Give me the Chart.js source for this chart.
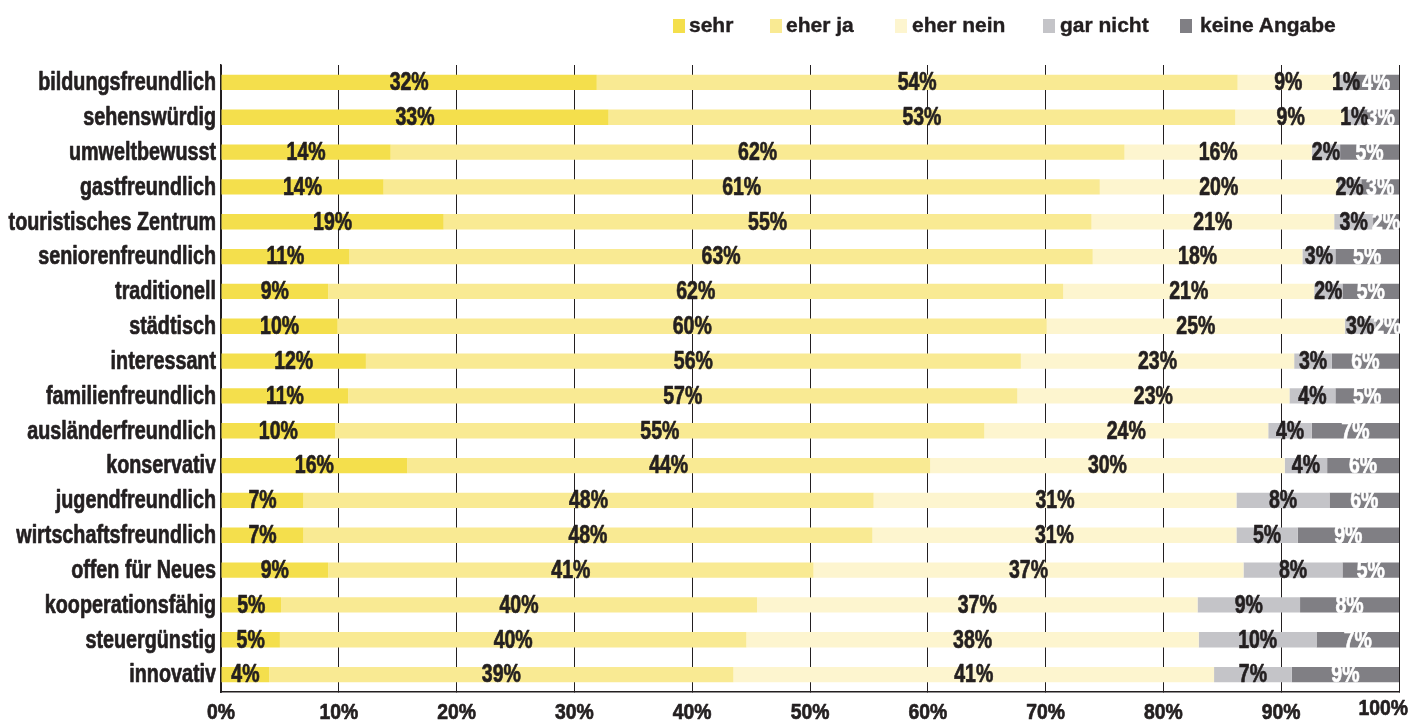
<!DOCTYPE html>
<html>
<head>
<meta charset="utf-8">
<script src="https://cdn.jsdelivr.net/npm/chart.js@4.4.1/dist/chart.umd.min.js"></script>
<style>
  body { margin: 0; background: #fff; }
  #wrap { position: relative; width: 1426px; height: 724px; }
  #legend { position: absolute; top: 0; left: 0; font: bold 21px "Liberation Sans", Arial, sans-serif; color: #231f20;
            -webkit-text-stroke: 0.4px #231f20; }
  #legend i { position: absolute; top: 19px; width: 12px; height: 14px; }
  #legend span { position: absolute; top: 13px; white-space: nowrap; }
</style>
</head>
<body>
<div id="wrap">
  <canvas id="myChart" width="1426" height="724"></canvas>
  <div id="legend"></div>
</div>
<script>
const font = '"Liberation Sans", Arial, sans-serif'

let labels = ["bildungsfreundlich", "sehenswürdig", "umweltbewusst", "gastfreundlich",
  "touristisches Zentrum", "seniorenfreundlich", "traditionell", "städtisch", "interessant",
  "familienfreundlich", "ausländerfreundlich", "konservativ", "jugendfreundlich",
  "wirtschaftsfreundlich", "offen für Neues", "kooperationsfähig", "steuergünstig", "innovativ"]

let sehr      = [31.9, 32.9, 14.4, 13.8, 18.9, 10.9,  9.1,  9.9, 12.3, 10.8,  9.7, 15.8,  7.0,  7.0,  9.1,  5.1,  5.0,  4.1]
let eherJa    = [54.4, 53.2, 62.3, 60.8, 55.0, 63.1, 62.4, 60.2, 55.6, 56.8, 55.1, 44.4, 48.4, 48.3, 41.2, 40.4, 39.6, 39.4]
let eherNein  = [ 8.6,  9.4, 15.9, 20.2, 20.6, 17.8, 21.3, 25.3, 23.2, 23.1, 24.1, 30.1, 30.8, 30.9, 36.5, 37.4, 38.4, 40.8]
let garNicht  = [ 1.2,  1.4,  2.4,  2.0,  3.3,  2.8,  2.4,  2.6,  3.2,  3.9,  3.7,  3.6,  7.9,  5.2,  8.4,  8.7, 10.0,  6.6]
let keine     = [ 3.9,  3.1,  5.0,  3.2,  2.2,  5.4,  4.8,  2.0,  5.7,  5.4,  7.4,  6.1,  5.9,  8.6,  4.8,  8.4,  7.0,  9.1]

let xTickLabels = ["0%", "10%", "20%", "30%", "40%", "50%", "60%", "70%", "80%", "90%", "100%"]

let names  = ["sehr", "eher ja", "eher nein", "gar nicht", "keine Angabe"]
let colors = ["#f4df4c", "#f9ea93", "#fdf5cf", "#c4c4c8", "#807f84"]
let textColors = ["#231f20", "#231f20", "#231f20", "#231f20", "#ffffff"]
let series = [sehr, eherJa, eherNein, garNicht, keine]

// html legend, box / text left edges as in the original
let boxX  = [673, 770, 895, 1043, 1180]
let textX = [689, 786, 912, 1060, 1200]
let legend = document.getElementById("legend")
names.forEach((n, i) => {
  legend.insertAdjacentHTML("beforeend",
    `<i style="left:${boxX[i]}px;background:${colors[i]}"></i><span style="left:${textX[i]}px">${n}</span>`)
})

// the original uses a narrow heavy face, so squeeze the text sideways and thicken it a bit
function narrowText(ctx, txt, x, y, align, sx) {
  ctx.save()
  ctx.translate(x, y)
  ctx.scale(sx, 1)
  ctx.textAlign = align
  ctx.strokeStyle = ctx.fillStyle
  ctx.lineWidth = 0.7
  ctx.lineJoin = "round"
  ctx.strokeText(txt, 0, 0)
  ctx.fillText(txt, 0, 0)
  ctx.restore()
}

const textLayer = {
  id: "textLayer",
  afterDatasetsDraw(chart) {
    let ctx = chart.ctx
    ctx.save()
    ctx.textBaseline = "middle"

    // values in the middle of each segment
    ctx.font = "bold 25px " + font
    chart.data.datasets.forEach((ds, di) => {
      ctx.fillStyle = textColors[di]
      chart.getDatasetMeta(di).data.forEach((bar, i) => {
        narrowText(ctx, Math.round(ds.data[i]) + "%", (bar.x + bar.base) / 2, bar.y + 1, "center", 0.78)
      })
    })

    // category names
    ctx.fillStyle = "#231f20"
    let y = chart.scales.y
    labels.forEach((l, i) => {
      narrowText(ctx, l, y.right - 5, y.getPixelForValue(i) + 1, "right", 0.79)
    })

    // percent ticks
    let x = chart.scales.x
    ctx.font = "bold 22px " + font
    xTickLabels.forEach((t, i) => {
      let px = x.getPixelForValue(i * 10)
      if (i == xTickLabels.length - 1) narrowText(ctx, t, px + 9, 709, "right", 0.88)
      else narrowText(ctx, t, px, 713, "center", 0.88)
    })
    ctx.restore()
  }
}

new Chart("myChart", {
  type: "bar",
  data: {
    labels: labels,
    datasets: series.map((d, i) => ({
      label: names[i],
      data: d,
      backgroundColor: colors[i],
      barPercentage: 0.44,
      categoryPercentage: 1
    }))
  },
  options: {
    indexAxis: "y",
    responsive: false,
    animation: false,
    layout: { padding: { top: 65, right: 27, left: 0, bottom: 32 } },
    plugins: { legend: { display: false }, tooltip: { enabled: false } },
    scales: {
      x: {
        stacked: true, min: 0, max: 100,
        ticks: { stepSize: 10, display: false },
        grid: { color: "#231f20", lineWidth: 1, tickLength: 0 },
        border: { color: "#231f20", width: 1.5 }
      },
      y: {
        stacked: true,
        afterFit: s => { s.width = 221 },
        ticks: { display: false },
        grid: { display: false },
        border: { color: "#231f20", width: 1.5 }
      }
    }
  },
  plugins: [textLayer]
})
</script>
</body>
</html>
